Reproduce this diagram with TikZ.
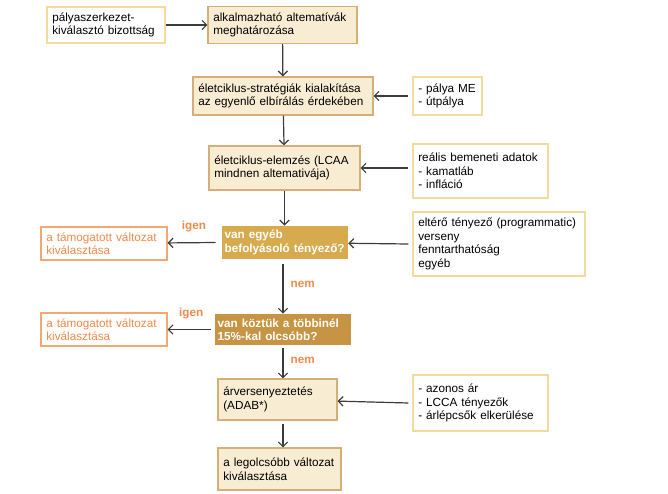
\documentclass[tikz,border=0pt]{standalone}
\usepackage{fontspec}
\setmainfont{Liberation Sans}
\usepackage{xcolor}
\usetikzlibrary{arrows.meta}
\definecolor{cream}{HTML}{F8EDD3}
\definecolor{creamline}{HTML}{D5AE78}
\definecolor{paleline}{HTML}{F2DC9C}
\definecolor{orangetxt}{HTML}{F08A4B}
\definecolor{orangeline}{HTML}{F2A870}
\definecolor{decone}{HTML}{D8AA4E}
\definecolor{dectwo}{HTML}{C69442}
\definecolor{arrowgray}{HTML}{3C3C3C}
\tikzset{
mainbox/.style = {rectangle, draw=creamline, fill=cream, line width=0.8pt,
                  align=left, inner xsep=4pt, text width=#1},
inbox/.style = {rectangle, draw=paleline, fill=white, line width=0.8pt,
                align=left, inner xsep=4pt, text width=#1},
resbox/.style = {rectangle, draw=orangeline, fill=white, line width=0.8pt,
                 align=left, inner xsep=4pt, text width=86.5pt,
                 minimum height=24.75pt, text=orangetxt},
decbox/.style = {rectangle, fill=#1, align=left, inner xsep=2pt,
                 text=white, font=\fontsize{8.8}{10.1}\selectfont\bfseries},
answer/.style = {text=orangetxt, font=\fontsize{8.8}{10.1}\selectfont\bfseries}
}
\begin{document}
\begin{tikzpicture}[x=0.75pt, y=-0.75pt, font=\fontsize{8.8}{10.1}\selectfont,
  arr/.style={-{Straight Barb[length=3.5pt, width=7pt]}, draw=arrowgray, line width=0.9pt}]
  \useasboundingbox (0,0) rectangle (668,493);

  % Boxes
    \node[inbox=80.5pt, minimum height=27pt] (committee) at (106,25) {pályaszerkezet-\\kiválasztó bizottság};
    \node[mainbox=103.75pt, minimum height=27.75pt] (alternatives) at (282.5,25) {alkalmazható altematívák\\meghatározása};
    \node[mainbox=127pt, minimum height=28.5pt] (strategies) at (283,96) {életciklus-stratégiák kialakítása\\az egyenlő elbírálás érdekében};
    \node[inbox=43.75pt, minimum height=28.5pt] (lanes) at (447.5,96) {- pálya ME\\- útpálya};
    \node[mainbox=105.25pt, minimum height=33pt] (lcca) at (284.5,168) {életciklus-elemzés (LCAA\\mindnen altemativája)};
    \node[inbox=93.25pt, minimum height=40.5pt] (inputs) at (480.5,171) {reális bemeneti adatok\\- kamatláb\\- infláció};
    \node[resbox] (pickA) at (104,243.5) {a támogatott változat\\kiválasztása};
    \node[inbox=121pt, minimum height=48pt] (factors) at (499,244) {eltérő tényező (programmatic)\\verseny\\fenntarthatóság\\egyéb};
    \node[resbox] (pickB) at (104,329.5) {a támogatott változat\\kiválasztása};
    \node[mainbox=81.25pt, minimum height=30.75pt] (tender) at (277.5,399.5) {árversenyeztetés\\(ADAB*)};
    \node[inbox=93.25pt, minimum height=42pt] (rules) at (480.5,403) {- azonos ár\\- LCCA tényezők\\- árlépcsők elkerülése};
    \node[mainbox=84.25pt, minimum height=31.5pt] (cheapest) at (279.5,469) {a legolcsóbb változat\\kiválasztása};

  % Decisions
    \node[decbox=decone, text width=90.5pt, minimum height=23.25pt] (askOther) at (285,242.5) {van egyéb\\befolyásoló tényező?};
    \node[decbox=dectwo, text width=98pt, minimum height=23.25pt] (askCheap) at (283,329.5) {van köztük a többinél\\15\%-kal olcsóbb?};

  % Lines
    \draw[arr] (committee) -- (alternatives);
    \draw[arr] (alternatives) -- (strategies);
    \draw[arr] (lanes.west) ++(-4,0) -- (strategies);
    \draw[arr] (strategies) -- (lcca);
    \draw[arr] (inputs.west |- lcca) ++(-4,0) -- (lcca);
    \draw[arr] (lcca) -- (askOther.north -| lcca);
    \draw[arr] (factors.west) ++(-4,0) -- (askOther);
    \draw[arr] (askOther.west) ++(-6,0) -- node[answer, above=4pt, pos=0.45]{igen} (pickA);
    \draw[arr] (askOther.south -| askCheap) ++(0,5) -- node[answer, right=2pt, pos=0.4]{nem} (askCheap);
    \draw[arr] (askCheap.west) ++(-4,0) -- node[answer, above=4pt, pos=0.45]{igen} (pickB);
    \draw[arr] (askCheap.south) ++(0,3) -- node[answer, right=2pt, pos=0.4]{nem} (tender.north -| askCheap.south);
    \draw[arr] (rules.west) ++(-4,0) -- (tender);
    \draw[arr] (tender.south -| askCheap) ++(0,3) -- (cheapest.north -| askCheap);
\end{tikzpicture}
\end{document}
